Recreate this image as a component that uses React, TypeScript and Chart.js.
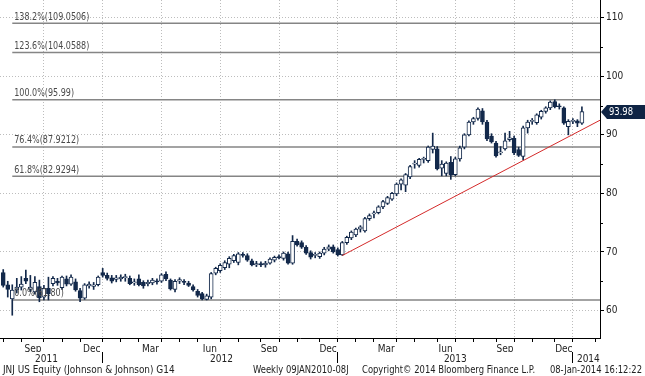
import React, { useEffect, useRef } from 'react';
import { Chart, registerables } from 'chart.js';

Chart.register(...registerables);

// ---------------- data ----------------
const FIRST_WEEK = '2011-07-29'; // weekly bars, Friday dates
const opens = [
  66.5, 64.4, 62.0, 63.5, 64.0, 65.5, 63.6, 63.2, 64.1, 62.3, 63.8, 64.6, 65.0, 63.9, 65.4, 64.5, 64.9, 63.4, 62.1, 64.2,
  64.1, 64.4, 66.5, 66.0, 65.6, 65.3, 65.4, 65.6, 65.5, 64.7, 65.4, 64.8, 64.6, 64.7, 65.0, 65.0, 66.2, 65.2, 63.6, 65.0,
  64.9, 64.7, 64.1, 63.3, 62.9, 61.9, 62.3, 66.4, 66.8, 67.3, 67.9, 68.5, 68.2, 69.6, 69.4, 68.5, 67.8, 68.0, 67.8, 68.1,
  68.6, 69.2, 68.9, 69.7, 68.1, 71.8, 71.6, 70.8, 69.9, 69.4, 69.2, 69.8, 70.5, 70.9, 70.4, 69.5, 71.6, 72.4, 72.9, 73.9,
  73.6, 75.7, 76.5, 76.7, 77.7, 78.3, 79.0, 79.9, 81.6, 81.4, 82.8, 85.0, 84.8, 85.8, 85.6, 87.5, 87.6, 84.3, 83.4, 85.3,
  83.2, 85.9, 87.9, 90.0, 92.2, 92.8, 94.1, 92.2, 89.8, 88.6, 86.9, 87.6, 89.2, 89.4, 87.5, 86.3, 91.2, 92.3, 92.1, 93.0,
  94.0, 94.6, 95.7, 94.9, 94.6, 91.4, 92.3, 92.4, 92.0,
];
const highs = [
  67.0, 65.0, 64.4, 65.5, 65.8, 66.9, 66.0, 65.8, 65.2, 64.3, 65.7, 65.8, 65.5, 65.9, 65.9, 66.1, 65.4, 63.8, 64.6, 64.9,
  64.8, 65.9, 67.2, 66.4, 66.0, 66.0, 66.1, 66.2, 65.9, 65.4, 66.1, 65.1, 65.2, 65.5, 65.4, 66.3, 66.6, 65.4, 65.3, 65.6,
  65.3, 65.0, 64.4, 63.6, 63.1, 62.8, 66.5, 67.4, 68.0, 68.5, 69.2, 69.6, 69.9, 69.9, 69.7, 68.8, 68.4, 68.3, 68.4, 69.0,
  69.3, 69.5, 70.0, 70.0, 72.8, 72.2, 71.9, 71.1, 70.2, 69.9, 70.0, 70.8, 71.2, 71.2, 70.7, 71.8, 72.7, 73.6, 74.1, 74.5,
  75.9, 76.5, 77.0, 77.9, 78.8, 79.5, 80.2, 81.8, 82.5, 83.4, 84.8, 85.6, 86.0, 86.2, 88.1, 90.3, 88.0, 85.6, 85.4, 86.3,
  86.2, 88.1, 90.2, 92.4, 93.0, 94.6, 94.5, 92.5, 90.2, 88.9, 88.0, 90.3, 90.6, 89.8, 87.9, 91.5, 92.5, 92.8, 93.6, 94.2,
  94.8, 95.8, 95.99, 95.3, 94.8, 92.6, 92.8, 92.6, 94.8,
];
const lows = [
  64.0, 62.3, 59.2, 63.0, 63.5, 64.6, 63.2, 62.8, 61.5, 61.8, 61.8, 64.2, 64.3, 63.6, 64.2, 64.3, 63.3, 61.5, 61.9, 63.8,
  63.6, 64.2, 65.7, 65.2, 64.7, 64.9, 65.0, 65.0, 64.4, 64.3, 64.2, 63.8, 64.2, 64.4, 64.5, 64.8, 65.1, 63.5, 63.2, 64.6,
  64.4, 64.1, 63.3, 62.3, 61.8, 61.8, 62.0, 66.1, 66.5, 67.0, 67.3, 68.2, 67.8, 69.1, 68.4, 67.6, 67.5, 67.5, 67.4, 67.9,
  68.3, 68.8, 68.6, 67.9, 67.9, 71.0, 70.6, 69.6, 68.8, 69.0, 68.9, 69.5, 70.2, 69.8, 69.3, 69.4, 71.3, 72.1, 72.6, 73.4,
  73.4, 75.4, 75.8, 76.5, 77.4, 78.1, 78.8, 79.6, 80.6, 80.3, 82.5, 84.3, 84.5, 85.2, 85.3, 86.9, 84.0, 83.0, 83.0, 82.4,
  83.0, 85.5, 87.6, 89.8, 91.8, 92.5, 91.8, 89.0, 88.6, 86.2, 86.6, 87.4, 88.9, 86.6, 86.3, 85.7, 90.3, 91.8, 91.8, 92.7,
  93.7, 94.3, 94.6, 94.4, 91.8, 90.0, 91.9, 91.4, 91.8,
];
const closes = [
  64.3, 63.6, 63.5, 64.0, 64.5, 65.0, 64.0, 64.8, 62.2, 63.8, 62.9, 65.5, 64.7, 65.7, 64.5, 65.7, 63.5, 62.1, 64.4, 64.5,
  64.4, 65.7, 66.0, 65.5, 65.0, 65.6, 65.7, 65.8, 64.6, 64.9, 64.4, 64.2, 64.8, 65.2, 64.9, 66.1, 65.4, 63.7, 65.0, 65.3,
  64.8, 64.3, 63.5, 62.6, 62.0, 62.5, 66.3, 67.2, 67.7, 68.2, 68.9, 69.4, 69.7, 69.4, 68.6, 67.8, 68.0, 67.8, 68.1, 68.8,
  69.1, 69.0, 69.8, 68.1, 71.8, 71.2, 70.8, 69.8, 69.1, 69.6, 69.8, 70.5, 70.9, 70.0, 69.5, 71.6, 72.5, 73.4, 73.9, 74.3,
  75.7, 76.2, 76.6, 77.7, 78.6, 79.3, 80.0, 81.6, 82.3, 83.2, 84.6, 85.1, 85.8, 85.9, 87.9, 88.1, 84.2, 85.0, 85.2, 83.1,
  85.9, 87.8, 90.0, 92.2, 92.8, 94.4, 92.2, 89.3, 88.8, 86.4, 87.1, 89.0, 89.5, 86.9, 86.5, 91.2, 92.2, 92.4, 93.4, 94.0,
  94.6, 95.6, 94.8, 94.8, 92.0, 92.3, 92.4, 92.0, 93.98,
];

const fibLevels = [109.0506, 104.0588, 95.99, 87.9212, 82.9294, 61.8];
const fibLabels = ['138.2%(109.0506)', '123.6%(104.0588)', '100.0%(95.99)', '76.4%(87.9212)', '61.8%(82.9294)', '0.0%(61.80)'];
const FIB_START = '2011-08-12';

const trendDates = ['2013-01-04', '2014-02-07'];
const trendValues = [69.4, 92.5];

const LAST_PRICE = '93.98';

const monthLabels = ['Sep', 'Dec', 'Mar', 'Jun', 'Sep', 'Dec', 'Mar', 'Jun', 'Sep', 'Dec'];
const monthLabelDates = ['2011-09-13', '2011-12-13', '2012-03-13', '2012-06-13', '2012-09-13', '2012-12-13', '2013-03-13', '2013-06-13', '2013-09-13', '2013-12-13'];
const quarterLineDates = ['2011-09-30', '2011-12-30', '2012-03-30', '2012-06-29', '2012-09-28', '2012-12-28', '2013-03-29', '2013-06-28', '2013-09-27', '2013-12-27'];
const yearLabels = ['2011', '2012', '2013', '2014'];
const yearLabelDates = ['2011-10-04', '2012-07-01', '2013-06-28', '2014-01-20'];
const yearSeparatorDates = ['2011-12-30', '2012-12-28', '2013-12-27'];
const yMajorTicks = [60, 70, 80, 90, 100, 110];
const yMinorTicks = [65, 75, 85, 95, 105];

const X_START = '2011-07-24';
const X_END = '2014-02-07';
const Y_MIN = 55.31;
const Y_MAX = 113.03;

const footerLeft = 'JNJ US Equity (Johnson & Johnson) G14';
const footerMid = 'Weekly 09JAN2010-08J';
const footerCopy = 'Copyright\u00A9 2014 Bloomberg Finance L.P.';
const footerRight = '08-Jan-2014 16:12:22';

// ---------------- helpers ----------------
const FONT = "'Liberation Sans Narrow', 'DejaVu Sans Condensed', 'Liberation Sans', sans-serif";
const NAVY = '#13294b';

const dayNum = (s: string) => {
  const [y, m, d] = s.split('-').map(Number);
  return Date.UTC(y, m - 1, d) / 86400000;
};

function monthEndFridays(fromY: number, fromM: number, toY: number, toM: number) {
  const out: number[] = [];
  let y = fromY;
  let m = fromM;
  while (y < toY || (y === toY && m <= toM)) {
    const lastDay = Date.UTC(y, m, 0);
    const dow = new Date(lastDay).getUTCDay();
    const back = (dow - 5 + 7) % 7;
    out.push(lastDay / 86400000 - back);
    m++;
    if (m > 12) { m = 1; y++; }
  }
  return out;
}

function condensedText(ctx: CanvasRenderingContext2D, text: string, x: number, y: number, sx: number) {
  ctx.save();
  ctx.translate(x, y);
  ctx.scale(sx, 1);
  ctx.fillText(text, 0, 0);
  ctx.restore();
}

export default function App() {
  const ref = useRef<HTMLCanvasElement | null>(null);

  useEffect(() => {
    document.body.style.margin = '0';
    document.body.style.background = '#ffffff';
    const canvas = ref.current;
    if (!canvas) return;

    const firstDay = dayNum(FIRST_WEEK);
    const weekDays = opens.map((_, i) => firstDay + 7 * i);
    const xMin = dayNum(X_START);
    const xMax = dayNum(X_END);

    const monthTicks = monthEndFridays(2011, 7, 2014, 1).filter((d) => d >= xMin && d <= xMax);
    const monthTickSet = new Set(monthTicks);
    const quarterSet = new Set(quarterLineDates.map(dayNum));
    const labelDays = monthLabelDates.map(dayNum);
    const yearDays = yearLabelDates.map(dayNum);
    const sepDays = yearSeparatorDates.map(dayNum);
    const sepSet = new Set(sepDays);
    const fibStart = dayNum(FIB_START);

    const wickData = weekDays.map((d, i) => ({ x: d, y: [lows[i], highs[i]] }));
    const bodyData = weekDays.map((d, i) => ({ x: d, y: [opens[i], closes[i]] }));
    const bodyColors = opens.map((o, i) => (closes[i] >= o ? '#ffffff' : NAVY));

    const fibDatasets = fibLevels.map((v) => ({
      type: 'line' as const,
      data: [{ x: fibStart, y: v }, { x: xMax, y: v }],
      borderColor: '#858585',
      borderWidth: 1.5,
      pointRadius: 0,
      order: 5,
    }));

    const zeroPad = (scale: any) => {
      scale.paddingTop = 0;
      scale.paddingBottom = 0;
      scale.paddingLeft = 0;
      scale.paddingRight = 0;
    };

    const overlay = {
      id: 'overlay',
      afterDatasetsDraw(chart: any) {
        const { ctx, scales } = chart;
        const x = scales.x;
        const y = scales.y;
        ctx.save();
        ctx.font = `11px ${FONT}`;
        ctx.fillStyle = '#4a4a4a';
        ctx.textAlign = 'left';
        ctx.textBaseline = 'bottom';
        fibLevels.forEach((v, k) => {
          condensedText(ctx, fibLabels[k], x.getPixelForValue(fibStart) + 2, y.getPixelForValue(v) - 1, 0.81);
        });
        ctx.restore();
      },
      afterDraw(chart: any) {
        const { ctx, scales, chartArea } = chart;
        const y = scales.y;
        ctx.save();
        // minor ticks on the price axis
        ctx.strokeStyle = '#000';
        ctx.lineWidth = 1;
        yMinorTicks.forEach((v) => {
          const py = Math.round(y.getPixelForValue(v)) + 0.5;
          ctx.beginPath();
          ctx.moveTo(chartArea.right, py);
          ctx.lineTo(chartArea.right + 3, py);
          ctx.stroke();
        });
        // last price tag
        const yc = Math.round(y.getPixelForValue(parseFloat(LAST_PRICE)));
        const x0 = chartArea.right + 1;
        ctx.fillStyle = '#0f2444';
        ctx.beginPath();
        ctx.moveTo(x0, yc);
        ctx.lineTo(x0 + 6, yc - 7);
        ctx.lineTo(645, yc - 7);
        ctx.lineTo(645, yc + 7);
        ctx.lineTo(x0 + 6, yc + 7);
        ctx.closePath();
        ctx.fill();
        ctx.fillStyle = '#ffffff';
        ctx.font = `11px ${FONT}`;
        ctx.textAlign = 'left';
        ctx.textBaseline = 'middle';
        condensedText(ctx, LAST_PRICE, x0 + 8, yc + 0.5, 0.85);
        // footer
        ctx.fillStyle = '#222';
        ctx.font = `11px ${FONT}`;
        ctx.textBaseline = 'middle';
        ctx.textAlign = 'left';
        condensedText(ctx, footerLeft, 3, 370, 0.9);
        condensedText(ctx, footerMid, 253, 370, 0.85);
        condensedText(ctx, footerCopy, 362, 370, 0.85);
        ctx.textAlign = 'right';
        condensedText(ctx, footerRight, 642, 370, 0.85);
        ctx.restore();
      },
    };

    const chart = new Chart(canvas, {
      type: 'bar',
      data: {
        datasets: [
          ...fibDatasets,
          {
            type: 'bar' as const,
            data: wickData as any,
            backgroundColor: NAVY,
            borderWidth: 0,
            barThickness: 1,
            grouped: false,
            order: 3,
          },
          {
            type: 'bar' as const,
            data: bodyData as any,
            backgroundColor: bodyColors,
            borderColor: NAVY,
            borderWidth: 1,
            borderSkipped: false,
            barThickness: 4,
            minBarLength: 1,
            grouped: false,
            order: 2,
          },
          {
            type: 'line' as const,
            data: trendDates.map((d, k) => ({ x: dayNum(d), y: trendValues[k] })),
            borderColor: '#d42a2a',
            borderWidth: 1,
            pointRadius: 0,
            order: 1,
          },
        ] as any,
      },
      options: {
        responsive: false,
        animation: false,
        devicePixelRatio: 1,
        events: [],
        layout: { padding: { top: 0, left: 0, right: 0, bottom: 11 } },
        plugins: { legend: { display: false }, tooltip: { enabled: false }, title: { display: false } },
        scales: {
          x: {
            type: 'linear',
            min: xMin,
            max: xMax,
            offset: false,
            position: 'bottom',
            afterBuildTicks: (scale: any) => {
              scale.ticks = [...monthTicks, ...labelDays].sort((a, b) => a - b).map((v) => ({ value: v }));
            },
            afterFit: (scale: any) => { scale.height = 14; zeroPad(scale); },
            ticks: {
              autoSkip: false,
              maxRotation: 0,
              minRotation: 0,
              padding: 1,
              color: '#222',
              font: { family: FONT, size: 10 },
              callback: (value: any) => {
                const k = labelDays.indexOf(value);
                return k >= 0 ? monthLabels[k] : '';
              },
            },
            grid: {
              display: true,
              offset: false,
              drawOnChartArea: true,
              drawTicks: true,
              tickLength: 4,
              color: (ctx: any) => (ctx.tick && quarterSet.has(ctx.tick.value) ? '#bdbdbd' : 'rgba(0,0,0,0)'),
              tickColor: (ctx: any) => (ctx.tick && monthTickSet.has(ctx.tick.value) ? '#000' : 'rgba(0,0,0,0)'),
              lineWidth: 1,
            },
            border: { display: true, color: '#000', width: 1, dash: [1, 2] },
          },
          x2: {
            type: 'linear',
            min: xMin,
            max: xMax,
            offset: false,
            position: 'bottom',
            afterBuildTicks: (scale: any) => {
              scale.ticks = [...yearDays, ...sepDays].sort((a, b) => a - b).map((v) => ({ value: v }));
            },
            afterFit: (scale: any) => { scale.height = 13; zeroPad(scale); },
            ticks: {
              autoSkip: false,
              maxRotation: 0,
              minRotation: 0,
              padding: -10,
              color: '#222',
              font: { family: FONT, size: 10 },
              callback: (value: any) => {
                const k = yearDays.indexOf(value);
                return k >= 0 ? yearLabels[k] : '';
              },
            },
            grid: {
              display: true,
              offset: false,
              drawOnChartArea: false,
              drawTicks: true,
              tickLength: 11,
              tickColor: (ctx: any) => (ctx.tick && sepSet.has(ctx.tick.value) ? '#000' : 'rgba(0,0,0,0)'),
            },
            border: { display: false },
          },
          y: {
            type: 'linear',
            position: 'right',
            min: Y_MIN,
            max: Y_MAX,
            afterBuildTicks: (scale: any) => {
              scale.ticks = yMajorTicks.map((v) => ({ value: v }));
            },
            afterFit: (scale: any) => { scale.width = 45; zeroPad(scale); },
            ticks: {
              padding: 2,
              color: '#222',
              font: { family: FONT, size: 10 },
              callback: (value: any) => String(value),
            },
            grid: {
              display: true,
              drawOnChartArea: true,
              drawTicks: true,
              tickLength: 4,
              color: '#bdbdbd',
              tickColor: '#000',
              lineWidth: 1,
            },
            border: { display: true, color: '#000', width: 1, dash: [1, 2] },
          },
        },
      } as any,
      plugins: [overlay],
    });

    return () => chart.destroy();
  }, []);

  return (
    <div style={{ width: 645, height: 376, background: '#fff' }}>
      <canvas ref={ref} width={645} height={376} style={{ display: 'block' }} />
    </div>
  );
}
